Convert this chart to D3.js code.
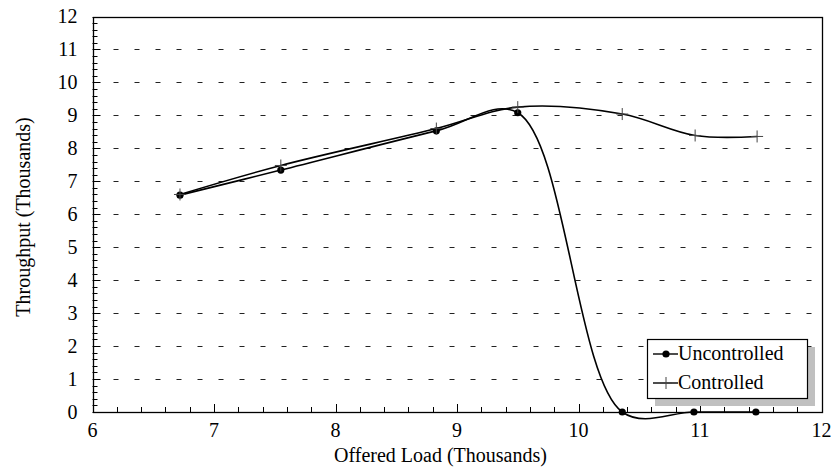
<!DOCTYPE html>
<html><head><meta charset="utf-8">
<script src="https://cdn.jsdelivr.net/npm/d3@7"></script>
<style>
html,body{margin:0;padding:0;background:#fff;}
</style></head>
<body><svg id="c" width="831" height="468" style='font-family:"Liberation Serif"'></svg>
<script>
const xTicks = [6,7,8,9,10,11,12];
const yTicks = [0,1,2,3,4,5,6,7,8,9,10,11,12];
const uncontrolledX = [6.72, 7.55, 8.83, 9.50, 10.36, 10.95, 11.46];
const uncontrolledY = [6.58, 7.34, 8.53, 9.08, 0.00, 0.00, 0.00];
const controlledX = [6.72, 7.55, 8.83, 9.50, 10.36, 10.96, 11.47];
const controlledY = [6.60, 7.48, 8.60, 9.25, 9.04, 8.39, 8.36];
const seriesNames = ["Uncontrolled", "Controlled"];

const FONT = '"Liberation Serif"';
const FS = 20;
const svg = d3.select("#c");
const L = 92.5, R = 821.5, T = 16.5, B = 412;
const x = d3.scaleLinear().domain([6,12]).range([L,R]);
const y = d3.scaleLinear().domain([0,12]).range([B,T]);

// grid
svg.append("g").selectAll("line").data(yTicks.filter(d=>d>0&&d<12)).join("line")
  .attr("x1", L+21).attr("x2", R).attr("y1", d=>Math.round(y(d))+0.5).attr("y2", d=>Math.round(y(d))+0.5)
  .attr("stroke","#222").attr("stroke-width",1).attr("stroke-dasharray","5,16");

// minor ticks
const xMinor = d3.range(6,12.001,0.2).map(v=>+v.toFixed(1));
const yMinor = d3.range(0,12.001,0.2).map(v=>+v.toFixed(1));
svg.append("g").selectAll("line").data(xMinor).join("line")
  .attr("x1", d=>Math.round(x(d))+0.5).attr("x2", d=>Math.round(x(d))+0.5)
  .attr("y1", B).attr("y2", d=>B-(Number.isInteger(d)?8:5))
  .attr("stroke","#000").attr("stroke-width",1);
svg.append("g").selectAll("line").data(yMinor).join("line")
  .attr("y1", d=>Math.round(y(d))+0.5).attr("y2", d=>Math.round(y(d))+0.5)
  .attr("x1", L).attr("x2", d=>L+(Number.isInteger(d)?8:5))
  .attr("stroke","#000").attr("stroke-width",1);

// frame
svg.append("rect").attr("x",Math.round(L)+0.5).attr("y",Math.round(T)+0.5)
  .attr("width",Math.round(R)-Math.round(L)).attr("height",Math.round(B)-Math.round(T))
  .attr("fill","none").attr("stroke","#000").attr("stroke-width",1.3);

// tick labels
xTicks.forEach(d=>{
  svg.append("text").attr("x", x(d)).attr("y", B+25).attr("text-anchor","middle")
    .style("font-family",FONT).attr("font-size",FS).text(String(d));
});
yTicks.forEach(d=>{
  svg.append("text").attr("x", L-15).attr("y", y(d)+6.8).attr("text-anchor","end")
    .style("font-family",FONT).attr("font-size",FS).text(String(d));
});

// axis titles
svg.append("text").attr("x",440.5).attr("y",462).attr("text-anchor","middle")
  .style("font-family",FONT).attr("font-size",FS).text("Offered Load (Thousands)");
svg.append("text").attr("transform",`translate(30,217) rotate(-90)`).attr("text-anchor","middle")
  .style("font-family",FONT).attr("font-size",FS).text("Throughput (Thousands)");

// lines
const line = d3.line().x(d=>x(d[0])).y(d=>y(d[1])).curve(d3.curveCatmullRom.alpha(0.5));
const uPts = uncontrolledX.map((v,i)=>[v,uncontrolledY[i]]);
const cPts = controlledX.map((v,i)=>[v,controlledY[i]]);
svg.append("path").attr("d",line(cPts)).attr("fill","none").attr("stroke","#000").attr("stroke-width",1.6);
svg.append("path").attr("d",line(uPts)).attr("fill","none").attr("stroke","#000").attr("stroke-width",1.6);

// markers
svg.append("g").selectAll("circle").data(uPts).join("circle")
  .attr("cx",d=>x(d[0])).attr("cy",d=>y(d[1])).attr("r",3.6).attr("fill","#000");
const plus = (g, cx, cy, s) => {
  g.append("line").attr("x1",cx-s).attr("x2",cx+s).attr("y1",cy).attr("y2",cy).attr("stroke","#444").attr("stroke-width",1);
  g.append("line").attr("x1",cx).attr("x2",cx).attr("y1",cy-s).attr("y2",cy+s).attr("stroke","#444").attr("stroke-width",1);
};
const pg = svg.append("g");
cPts.forEach(d=>plus(pg, x(d[0]), y(d[1]), 6));

// legend
const lx = 647, ly = 339, lw = 160, lh = 59;
svg.append("rect").attr("x",lx+8).attr("y",ly+8).attr("width",lw).attr("height",lh).attr("fill","#c0c0c0");
svg.append("rect").attr("x",lx+0.5).attr("y",ly+0.5).attr("width",lw).attr("height",lh).attr("fill","#fff").attr("stroke","#000").attr("stroke-width",1.2);
seriesNames.forEach((n,i)=>{
  const yy = ly + 15 + i*29;
  svg.append("line").attr("x1",lx+6).attr("x2",lx+31).attr("y1",yy).attr("y2",yy).attr("stroke","#000").attr("stroke-width",1.4);
  if(i===0) svg.append("circle").attr("cx",lx+19).attr("cy",yy).attr("r",3.6).attr("fill","#000");
  else plus(svg, lx+19, yy, 6);
  svg.append("text").attr("x",lx+31).attr("y",yy+6).style("font-family",FONT).attr("font-size",FS).text(n);
});
</script></body></html>
